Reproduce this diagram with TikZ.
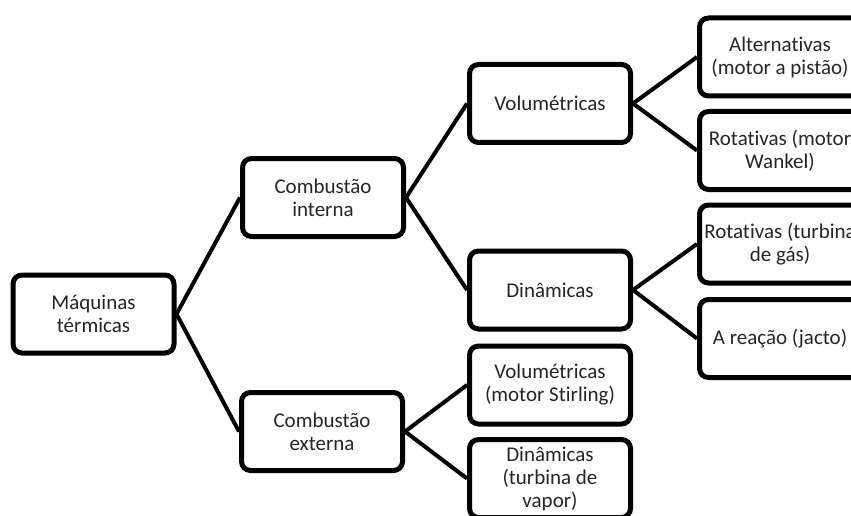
\documentclass[tikz,border=0pt]{standalone}
\usepackage{fontspec}
\setmainfont{Carlito}[Ligatures=NoCommon]
\usepackage{tikz}
\usetikzlibrary{positioning}
\tikzset{
  link/.style = {line width=4pt},
  box/.style  = {draw, line width=5pt, rounded corners=9pt, align=center, fill=white,
                 inner sep=1pt, text=black!85, font=\fontsize{21}{23}\selectfont},
  catbox/.style = {box, minimum width=161pt, minimum height=78pt},
}

\begin{document}
\begin{tikzpicture}[x=1pt, y=-1pt]
  \useasboundingbox (0,0) rectangle (851,516);
  \clip (0,0) rectangle (851,516);
  \node[catbox] (maq)  at (93.5,314)  {Máquinas\\térmicas};
  \node[catbox] (ci)   at (323,197.5) {Combustão\\interna};
  \node[catbox] (ce)   at (322,431.5) {Combustão\\externa};
  \node[catbox] (vol)  at (550,103.5) {Volumétricas};
  \node[catbox] (din)  at (550,290)   {Dinâmicas};
  \node[catbox] (stir) at (550,385)   {Volumétricas\\(motor Stirling)};
  \node[catbox] (vap)  at (550,478.5) {Dinâmicas\\(turbina de\\vapor)};
  \node[catbox] (alt)  at (780,57)    {Alternativas\\(motor a pistão)};
  \node[catbox] (rotw) at (780,150.5) {Rotativas (motor\\Wankel)};
  \node[catbox] (rott) at (780,244)   {Rotativas (turbina\\de gás)};
  \node[catbox] (jac)  at (780,338.5) {A reação (jacto)};
  \draw[link] (maq.east) -- (ci.west);
  \draw[link] (maq.east) -- (ce.west);
  \draw[link] (ci.east) -- (vol.west);
  \draw[link] (ci.east) -- (din.west);
  \draw[link] (ce.east) -- (stir.west);
  \draw[link] (ce.east) -- (vap.west);
  \draw[link] (vol.east) -- (alt.west);
  \draw[link] (vol.east) -- (rotw.west);
  \draw[link] (din.east) -- (rott.west);
  \draw[link] (din.east) -- (jac.west);
\end{tikzpicture}
\end{document}
